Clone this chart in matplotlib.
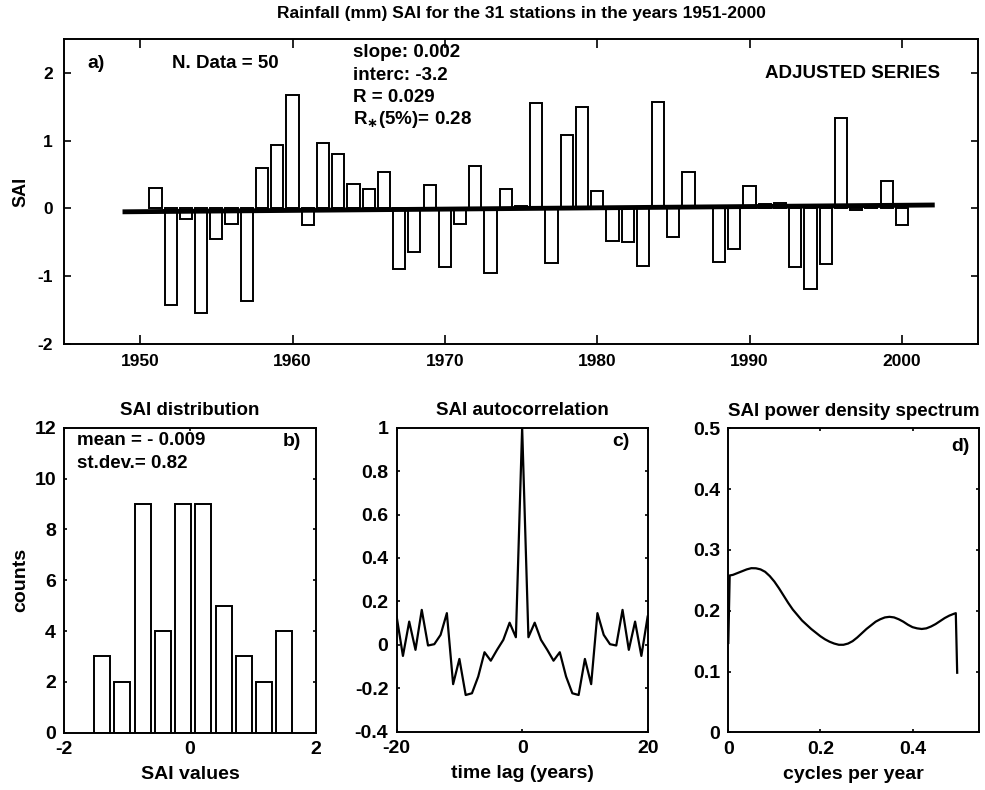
import matplotlib
matplotlib.use("Agg")
import matplotlib.pyplot as plt
from matplotlib import font_manager

# --- data ---
years = list(range(1951, 2001))
sai = [0.30, -1.42, -0.16, -1.55, -0.45, -0.23, -1.36, 0.59, 0.94, 1.68,
       -0.25, 0.96, 0.80, 0.36, 0.29, 0.53, -0.89, -0.64, 0.34, -0.87,
       -0.23, 0.63, -0.96, 0.28, 0.04, 1.56, -0.81, 1.08, 1.49, 0.26,
       -0.48, -0.49, -0.85, 1.57, -0.42, 0.53, 0.04, -0.79, -0.60, 0.33,
       0.06, 0.08, -0.86, -1.19, -0.82, 1.34, -0.02, 0.02, 0.40, -0.24]
trend_x = [1949, 2002]
trend_y = [-0.05, 0.05]

hist_centers = [-1.40, -1.08, -0.75, -0.43, -0.11, 0.21, 0.54, 0.86, 1.18, 1.50]
hist_counts = [3, 2, 9, 4, 9, 9, 5, 3, 2, 4]

lags = list(range(-20, 21))
acf = [0.13, -0.051, 0.107, -0.023, 0.161, -0.003, 0.003, 0.046, 0.146, -0.181,
       -0.065, -0.231, -0.223, -0.146, -0.034, -0.073, -0.023, 0.023, 0.102, 0.035,
       1.0,
       0.035, 0.102, 0.023, -0.023, -0.073, -0.034, -0.146, -0.223, -0.231, -0.065,
       -0.181, 0.146, 0.046, 0.003, -0.003, 0.161, -0.023, 0.107, -0.051, 0.13]

freq = [0.000, 0.003, 0.01, 0.02, 0.03, 0.04, 0.05, 0.06, 0.07, 0.08, 0.09, 0.10,
        0.11, 0.12, 0.13, 0.14, 0.15, 0.16, 0.17, 0.18, 0.19, 0.20, 0.21, 0.22,
        0.23, 0.24, 0.25, 0.26, 0.27, 0.28, 0.29, 0.30, 0.31, 0.32, 0.33, 0.34,
        0.35, 0.36, 0.37, 0.38, 0.39, 0.40, 0.41, 0.42, 0.43, 0.44, 0.45, 0.46,
        0.47, 0.48, 0.49, 0.494, 0.497]
psd = [0.147, 0.258, 0.259, 0.262, 0.265, 0.268, 0.270, 0.2698, 0.268, 0.264,
       0.257, 0.248, 0.237, 0.225, 0.213, 0.202, 0.193, 0.184, 0.177, 0.170,
       0.164, 0.158, 0.153, 0.149, 0.146, 0.144, 0.144, 0.146, 0.150, 0.156,
       0.163, 0.170, 0.176, 0.182, 0.186, 0.189, 0.190, 0.189, 0.186, 0.182,
       0.177, 0.173, 0.171, 0.170, 0.171, 0.174, 0.178, 0.183, 0.188, 0.192,
       0.195, 0.196, 0.098]

names = {f.name for f in font_manager.fontManager.ttflist}
narrow = "Liberation Sans Narrow" if "Liberation Sans Narrow" in names else "Liberation Sans"
plt.rcParams["font.family"] = ["Liberation Sans", "DejaVu Sans"]
plt.rcParams["font.weight"] = "bold"
plt.rcParams["axes.titleweight"] = "bold"
plt.rcParams["axes.labelweight"] = "bold"
plt.rcParams["axes.unicode_minus"] = False
plt.rcParams["axes.linewidth"] = 1.4

fig = plt.figure(figsize=(9.85, 7.9), dpi=100)

# a) time series
ax = fig.add_axes([0.0650, 0.5646, 0.9279, 0.3861])
ax.bar(years, sai, width=0.8, color="white", edgecolor="black", linewidth=1.4, zorder=2)
ax.plot(trend_x, trend_y, color="black", linewidth=3.5, zorder=3)
ax.set_xlim(1945, 2005)
ax.set_ylim(-2, 2.5)
ax.set_xticks(range(1950, 2001, 10))
ax.set_yticks([-2, -1, 0, 1, 2])
ax.tick_params(axis="x", direction="in", top=True, length=6.5, width=1.2, pad=7)
ax.tick_params(axis="y", direction="in", right=True, length=4.8, width=1.2, pad=8)
for lab in ax.get_xticklabels() + ax.get_yticklabels():
    lab.set_family(narrow)
    lab.set_fontsize(12.5)
ax.set_ylabel("SAI", fontsize=13, family=narrow, labelpad=6)
ax.set_title("Rainfall (mm) SAI for the 31 stations in the years 1951-2000",
             fontsize=12.5, family=narrow, pad=15)
ax.text(0.026, 0.918, "a)", transform=ax.transAxes, fontsize=14, va="center")
ax.text(0.118, 0.918, "N. Data = 50", transform=ax.transAxes, fontsize=13.5, va="center")
stats = ["slope: 0.002", "interc: -3.2", "R = 0.029", r"R$_{\ast}$(5%)= 0.28"]
for i, s in enumerate(stats):
    ax.text(0.3165, 0.954 - i * 0.0725, s, transform=ax.transAxes, fontsize=13.5, va="center")
ax.text(0.958, 0.888, "ADJUSTED SERIES", transform=ax.transAxes, fontsize=13.5,
        va="center", ha="right")

def small_axes(rect):
    a = fig.add_axes(rect)
    a.tick_params(direction="in", top=True, right=True, length=2.5, width=1.2,
                  labelsize=14, pad=6)
    return a

# b) histogram
axb = small_axes([0.0653, 0.0725, 0.2552, 0.3861])
axb.bar(hist_centers, hist_counts, width=0.26, color="white", edgecolor="black",
        linewidth=1.4, zorder=2)
axb.set_xlim(-2, 2)
axb.set_ylim(0, 12)
axb.set_xticks([-2, 0, 2])
axb.set_yticks(range(0, 13, 2))
axb.set_title("SAI distribution", fontsize=13.5, pad=9)
axb.set_xlabel("SAI values", fontsize=14, labelpad=6)
axb.set_ylabel("counts", fontsize=14, labelpad=4)
axb.text(0.049, 0.958, "mean = - 0.009", transform=axb.transAxes, fontsize=13.5, va="center")
axb.text(0.049, 0.883, "st.dev.= 0.82", transform=axb.transAxes, fontsize=13.5, va="center")
axb.text(0.94, 0.955, "b)", transform=axb.transAxes, fontsize=14, va="center", ha="right")

# c) autocorrelation
axc = small_axes([0.4027, 0.0738, 0.2548, 0.3848])
axc.plot(lags, acf, color="black", linewidth=1.6)
axc.set_xlim(-20, 20)
axc.set_ylim(-0.4, 1)
axc.set_xticks([-20, 0, 20])
axc.set_yticks([-0.4, -0.2, 0, 0.2, 0.4, 0.6, 0.8, 1])
axc.set_yticklabels(["-0.4", "-0.2", "0", "0.2", "0.4", "0.6", "0.8", "1"])
axc.set_title("SAI autocorrelation", fontsize=13.5, pad=9)
axc.set_xlabel("time lag (years)", fontsize=14, labelpad=6)
axc.text(0.93, 0.955, "c)", transform=axc.transAxes, fontsize=14, va="center", ha="right")

# d) power density spectrum
axd = small_axes([0.7394, 0.0730, 0.2548, 0.3848])
axd.plot(freq, psd, color="black", linewidth=1.6)
axd.set_xlim(0, 0.545)
axd.set_ylim(0, 0.5)
axd.set_xticks([0, 0.2, 0.4])
axd.set_xticklabels(["0", "0.2", "0.4"])
axd.set_yticks([0, 0.1, 0.2, 0.3, 0.4, 0.5])
axd.set_yticklabels(["0", "0.1", "0.2", "0.3", "0.4", "0.5"])
axd.set_title("SAI power density spectrum", fontsize=13.5, pad=9)
axd.set_xlabel("cycles per year", fontsize=14, labelpad=6)
axd.text(0.963, 0.94, "d)", transform=axd.transAxes, fontsize=14, va="center", ha="right")

fig.savefig("out.png", dpi=100)
